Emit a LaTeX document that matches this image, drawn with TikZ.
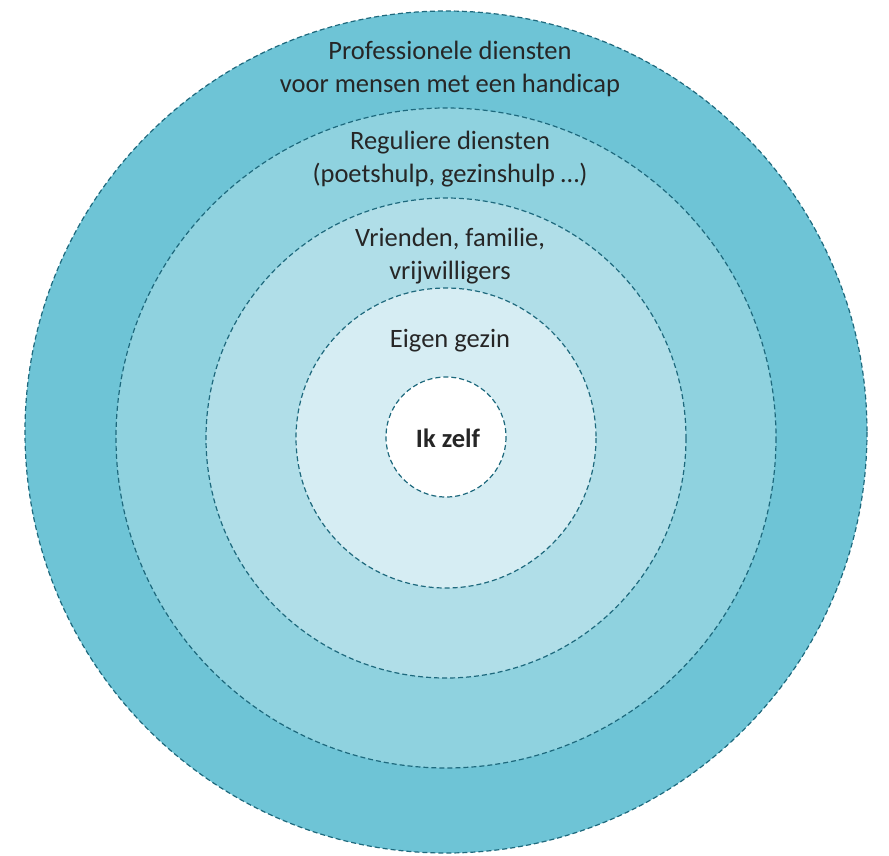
\documentclass[tikz,border=0pt]{standalone}
\usepackage{fontspec}
\setmainfont{Carlito}
\definecolor{ringA}{RGB}{110,196,214}
\definecolor{ringB}{RGB}{143,210,223}
\definecolor{ringC}{RGB}{176,222,232}
\definecolor{ringD}{RGB}{214,237,243}
\definecolor{edge}{RGB}{30,105,125}
\begin{document}
\begin{tikzpicture}[x=1pt,y=-1pt,
  ring/.style={draw=edge,line width=1.2pt,dash pattern=on 5pt off 3pt},
  lbl/.style={font=\fontsize{26.5}{33}\selectfont,align=center,text=black!85,inner sep=0pt}]
\useasboundingbox (0,0) rectangle (889,855);
\fill[white] (0,0) rectangle (889,855);
\draw[ring,fill=ringA] (446,432) circle[radius=421];
\draw[ring,fill=ringB] (446,438) circle[radius=330];
\draw[ring,fill=ringC] (446,438) circle[radius=240];
\draw[ring,fill=ringD] (446,438) circle[radius=150];
\draw[ring,fill=white] (446,437) circle[radius=60];
\node[lbl] (prof) at (450,69) {Professionele diensten\\voor mensen met een handicap};
\node[lbl] (reg) at (450,159) {Reguliere diensten\\(poetshulp, gezinshulp \dots)};
\node[lbl] (vri) at (450,256) {Vrienden, familie,\\vrijwilligers};
\node[lbl] (eig) at (450,341) {Eigen gezin};
\node[lbl,font=\fontsize{26.5}{33}\selectfont\bfseries] (ik) at (448,438) {Ik zelf};
\end{tikzpicture}
\end{document}
